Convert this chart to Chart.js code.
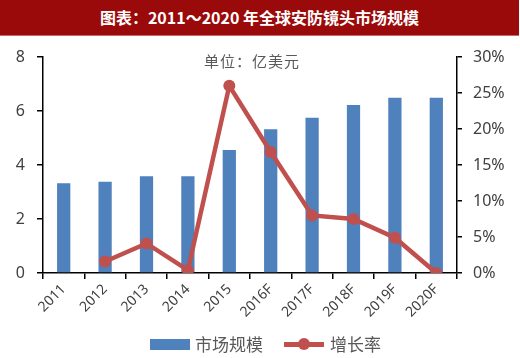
<!DOCTYPE html>
<html><head><meta charset="utf-8">
<script src="https://cdn.jsdelivr.net/npm/chart.js@4/dist/chart.umd.min.js"></script>
<style>
html,body{margin:0;padding:0;background:#fff;}
#wrap{position:relative;width:520px;height:358px;overflow:hidden;font-family:"Noto Sans CJK SC","Noto Sans",sans-serif;}
#title{position:absolute;left:0;top:0;width:519px;height:35px;background:#9B0A0A;color:#fff;font-weight:bold;font-size:16px;line-height:35px;text-align:center;border-bottom:1px solid #c46a6a;}
#unit{position:absolute;left:204px;top:50px;font-size:15px;color:#595959;letter-spacing:1px;}
#legend{position:absolute;left:0;top:332px;width:520px;height:24px;font-size:17px;color:#595959;}
.sw{position:absolute;}
canvas{position:absolute;left:0;top:0;}
</style></head>
<body><div id="wrap">
<canvas id="c" width="520" height="358"></canvas>
<div id="title">图表：2011～2020 年全球安防镜头市场规模</div>
<div id="unit">单位：亿美元</div>
<div id="legend">
  <div class="sw" style="left:150px;top:7px;width:40px;height:11px;background:#4F81BD;"></div>
  <div class="sw" style="left:195px;top:0px;line-height:24px;">市场规模</div>
  <div class="sw" style="left:284px;top:10px;width:40px;height:5px;background:#C0504D;"></div>
  <div class="sw" style="left:298px;top:6px;width:12px;height:12px;border-radius:50%;background:#C0504D;"></div>
  <div class="sw" style="left:330px;top:0px;line-height:24px;">增长率</div>
</div>
</div>
<script>
const categories = ["2011","2012","2013","2014","2015","2016F","2017F","2018F","2019F","2020F"];
const marketSize = [3.32, 3.38, 3.58, 3.58, 4.56, 5.32, 5.75, 6.22, 6.49, 6.49];
const growthRate = [null, 0.016, 0.041, 0.004, 0.260, 0.168, 0.080, 0.075, 0.049, 0.000];
const leftTicks = [0, 2, 4, 6, 8];
const rightTicks = [0, 0.05, 0.10, 0.15, 0.20, 0.25, 0.30];

const tickFont = {family: "'Noto Sans', sans-serif", size: 16};
new Chart(document.getElementById('c'), {
  data: {
    labels: categories,
    datasets: [
      {type:'line', label:'增长率', data: growthRate, yAxisID:'y1', borderColor:'#C0504D', backgroundColor:'#C0504D',
       borderWidth:4.5, pointRadius:6, pointBackgroundColor:'#C0504D', pointBorderWidth:0, tension:0, order:0},
      {type:'bar', label:'市场规模', data: marketSize, yAxisID:'y', backgroundColor:'#4F81BD',
       categoryPercentage:1, barPercentage:0.32, order:1}
    ]
  },
  options: {
    responsive:false, animation:false, devicePixelRatio:1,
    layout:{padding:{top:57,left:0,right:0,bottom:0}},
    plugins:{legend:{display:false}, tooltip:{enabled:false}},
    scales:{
      x:{
        offset:true,
        grid:{offset:true, drawOnChartArea:false, drawTicks:true, tickLength:6, color:'#000', lineWidth:1.5},
        border:{color:'#000', width:1.5},
        ticks:{minRotation:45, maxRotation:45, color:'#404040', font:{family:"'Noto Sans', sans-serif", size:14}, padding:2},
        afterFit(s){ s.height = 85; }
      },
      y:{
        position:'left', min:0, max:8,
        afterBuildTicks(s){ s.ticks = leftTicks.map(v=>({value:v})); },
        grid:{drawOnChartArea:false, drawTicks:true, tickLength:6, color:'#000', lineWidth:1.5},
        border:{color:'#000', width:1.5},
        ticks:{color:'#404040', font:tickFont, padding:12},
        afterFit(s){ s.width = 43; }
      },
      y1:{
        position:'right', min:0, max:0.3,
        afterBuildTicks(s){ s.ticks = rightTicks.map(v=>({value:v})); },
        grid:{drawOnChartArea:false, drawTicks:true, tickLength:5, color:'#000', lineWidth:1.5},
        border:{color:'#000', width:1.5},
        ticks:{color:'#404040', font:tickFont, padding:11, callback:v=>Math.round(v*100)+'%'},
        afterFit(s){ s.width = 63; }
      }
    }
  }
});
</script>
</body></html>
